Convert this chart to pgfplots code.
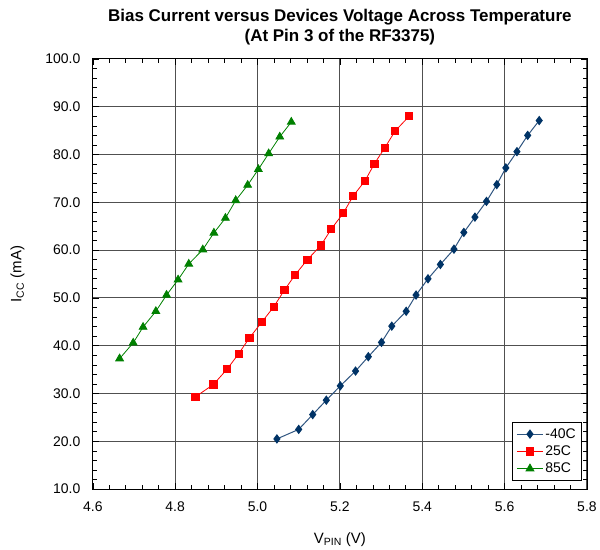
\documentclass[border=0pt]{standalone}
\usepackage{fontspec}
\setmainfont{Liberation Sans}
\usepackage{pgfplots}
\pgfplotsset{compat=1.18}

\definecolor{navy}{HTML}{003366}
\definecolor{navyline}{HTML}{2F5580}
\definecolor{gridgray}{HTML}{505050}

\begin{document}
\begin{tikzpicture}
  \begin{axis}[
      scale only axis,
      width=495pt,
      height=431pt,
      xmin=4.6, xmax=5.8,
      ymin=10, ymax=100,
      xtick distance=0.2,
      ytick distance=10,
      minor x tick num=4,
      minor y tick num=4,
      tick align=inside,
      major tick length=6pt,
      minor tick length=4pt,
      tick style={black, line width=0.6pt},
      grid=major,
      major grid style={gridgray, line width=1pt},
      axis line style={black, line width=0.9pt},
      /pgf/number format/assume math mode=true,
      /pgf/number format/fixed,
      /pgf/number format/fixed zerofill,
      /pgf/number format/precision=1,
      ticklabel style={font=\fontsize{14}{16}\selectfont},
      xticklabel style={yshift=-9pt},
      yticklabel style={xshift=-9pt},
      xlabel={V\textsubscript{PIN} (V)},
      ylabel={I\textsubscript{CC} (mA)},
      label style={font=\fontsize{15}{17}\selectfont},
      xlabel style={yshift=-14pt},
      ylabel style={yshift=14pt},
      title={Bias Current versus Devices Voltage Across Temperature\\(At Pin 3 of the RF3375)},
      title style={font=\bfseries\fontsize{17}{20}\selectfont, align=center, yshift=4pt},
      legend style={
        at={(0.99,0.02)}, anchor=south east,
        font=\fontsize{14}{16}\selectfont,
        draw=black, line width=0.6pt,
        row sep=2pt, inner sep=4pt
      },
      legend image code/.code={
        \draw[mark repeat=2, mark phase=2, #1]
          plot coordinates {(0pt,0pt) (13pt,0pt) (26pt,0pt)};
      },
      legend cell align=left,
    ]
    \addplot[navyline, line width=1pt, mark=diamond*, mark size=4pt,
      mark options={fill=navy, draw=navy}] coordinates {
      (5.047,20.5) (5.100,22.5) (5.134,25.6) (5.167,28.6) (5.201,31.6)
      (5.238,34.7) (5.269,37.7) (5.301,40.7) (5.326,44.1) (5.361,47.2)
      (5.385,50.6) (5.414,54.0) (5.444,57.0) (5.477,60.2) (5.501,63.7)
      (5.528,66.9) (5.556,70.2) (5.581,73.7) (5.603,77.2) (5.630,80.6)
      (5.656,84.0) (5.684,87.1)
    };
    \addplot[red, line width=0.8pt, mark=square*, mark size=3.6pt,
      mark options={fill=red, draw=red}] coordinates {
      (4.849,29.3) (4.893,31.9) (4.926,35.1) (4.954,38.3) (4.980,41.6)
      (5.010,44.9) (5.039,48.1) (5.065,51.6) (5.091,54.8) (5.121,58.0)
      (5.154,61.0) (5.179,64.4) (5.208,67.7) (5.232,71.3) (5.261,74.5)
      (5.284,78.1) (5.309,81.4) (5.334,84.9) (5.368,88.0)
    };
    \addplot[green!50!black, line width=0.8pt, mark=triangle*, mark size=4.5pt,
      mark options={fill=green!50!black, draw=green!50!black}] coordinates {
      (4.665,37.3) (4.698,40.6) (4.722,43.9) (4.753,47.2) (4.779,50.6)
      (4.807,53.8) (4.833,57.1) (4.867,60.1) (4.894,63.6) (4.922,66.7)
      (4.947,70.4) (4.976,73.6) (5.002,76.9) (5.027,80.2) (5.054,83.7)
      (5.082,86.8)
    };
    \legend{-40C, 25C, 85C}
  \end{axis}
  \path (current axis.south west) ++(-93pt,-56pt) coordinate (bl);
  \path (current axis.north east) ++(12pt,59pt) coordinate (tr);
  \path (bl) rectangle (tr);
\end{tikzpicture}
\end{document}
